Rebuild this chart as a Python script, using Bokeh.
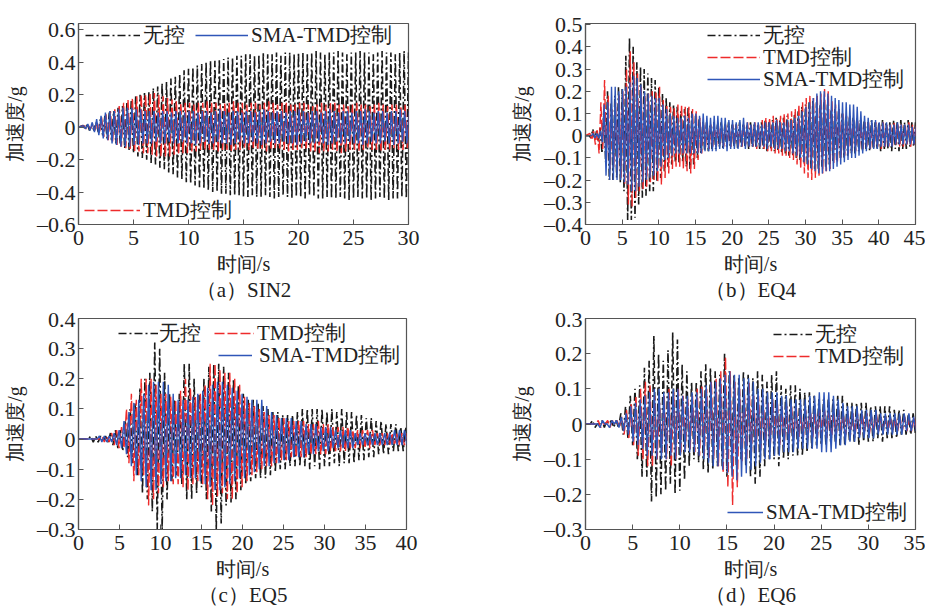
from bokeh.plotting import figure
from bokeh.layouts import column, row
from bokeh.models import (Legend, LegendItem, FixedTicker, CustomJSTickFormatter,
                          LinearAxis, Range1d)
from bokeh.embed import file_html
from bokeh.resources import INLINE

FONT = "Liberation Serif"
BLACK = "#1a1a1a"
RED = "#ee2b2b"
BLUE = "#2f56b8"

# ---------------- data: alternating peak values (unit: 0.01 g) ----------------
# (a) SIN2, one cycle every 0.4 s
a_period = 0.4
a_t0 = {"black": 0.40, "red": 0.50, "blue": 0.45}
a_black_up = [1,2,2,3,5,7,9,10,12,13, 15,17,19,20,21,22,24,25,27,28,
              30,31,33,35,36,37,38,39,40,41, 41,42,42,43,43,44,44,45,45,44,
              45,46,45,45,46,44,46,46,45,46, 46,45,46,47,46,45,46,46,47,46,
              45,46,46,47,46,46,45,46,47,46, 46,45,46,47,46]
a_black_dn = [-1,-2,-2,-3,-5,-7,-8,-10,-11,-13, -14,-16,-18,-19,-20,-22,-23,-25,-26,-28,
              -29,-31,-32,-34,-35,-36,-37,-38,-39,-40, -40,-41,-41,-42,-42,-42,-43,-43,-42,-43,
              -43,-42,-43,-44,-43,-42,-43,-44,-43,-43, -44,-42,-43,-44,-44,-43,-44,-44,-43,-44,
              -45,-44,-43,-44,-44,-45,-44,-43,-44,-45, -44,-44,-43,-44,-45]
a_red_up = [1,1,2,3,6,8,10,11,13,15, 17,18,19,20,20,21,21,20,19,18,
            17,16,15,15,15,14,15,15,16,15, 15,14,15,15,16,15,15,14,15,15,
            14,15,16,15,14,15,15,14,14,15, 15,14,13,14,15,14,15,15,14,14,
            13,14,15,14,14,13,14,15,14,13, 14,14,13,14,13]
a_red_dn = [-1,-1,-2,-4,-6,-8,-9,-11,-12,-13, -14,-15,-15,-16,-16,-17,-18,-18,-18,-18,
            -17,-17,-16,-16,-15,-15,-14,-14,-14,-14, -15,-14,-14,-15,-14,-14,-13,-14,-13,-14,
            -14,-15,-14,-13,-14,-14,-15,-14,-14,-13, -14,-15,-15,-16,-15,-15,-14,-15,-16,-15,
            -14,-14,-15,-14,-13,-14,-14,-15,-14,-14, -13,-14,-14,-13,-14]
a_blue_up = [1,2,3,5,7,9,10,10,11,12, 12,12,11,11,10,10,10,9,10,10,
             9,10,10,9,10,10,9,10,10,9, 10,11,10,9,10,10,9,10,10,9,
             10,11,10,9,10,10,9,10,10,11, 10,9,10,10,9,10,11,10,9,10,
             10,9,10,10,11,10,9,10,10,9, 10,10,11,10,10]
a_blue_dn = [-1,-2,-3,-5,-7,-8,-10,-11,-12,-12, -12,-11,-11,-10,-10,-10,-9,-10,-10,-9,
             -10,-10,-9,-10,-10,-11,-10,-9,-10,-10, -9,-10,-10,-11,-10,-9,-10,-10,-9,-10,
             -11,-10,-9,-10,-10,-9,-10,-10,-11,-10, -9,-10,-10,-9,-10,-11,-10,-9,-10,-10,
             -9,-10,-10,-11,-10,-9,-10,-10,-9,-10, -11,-10,-9,-10,-10]

# (b) EQ4, one cycle every 0.5 s
b_period = 0.5
b_t0 = {"black": 0.50, "red": 0.60, "blue": 0.55}
b_black_up = [0,3,2,4,12,20,15,18,22,21, 36,44,40,33,31,30,28,26,25,22,
              19,17,15,14,13,11,12,13,11,9, 8,6,6,5,6,5,6,5,6,5,
              5,6,5,5,6,5,5,6,7,6, 7,8,7,8,9,8,10,11,13,14,
              15,16,15,14,15,14,12,12,11,10, 9,9,8,8,7,7,6,7,6,6,
              7,6,6,7,6,7,6,7,6,6]
b_black_dn = [-1,-2,-3,-8,-12,-20,-20,-19,-21,-25, -38,-38,-37,-31,-28,-27,-25,-25,-21,-19,
              -16,-14,-13,-12,-12,-12,-14,-15,-13,-10, -8,-7,-7,-6,-6,-5,-6,-5,-5,-5,
              -6,-5,-5,-6,-5,-5,-6,-6,-7,-6, -7,-7,-8,-8,-9,-9,-10,-11,-12,-13,
              -15,-15,-15,-14,-14,-13,-12,-11,-10,-10, -9,-8,-8,-7,-7,-6,-7,-6,-6,-7,
              -6,-6,-7,-6,-7,-6,-6,-5,-5,-5]
b_red_up = [1,2,3,15,25,18,12,15,18,20, 30,38,33,28,22,18,19,20,20,22,
            16,14,13,13,14,14,13,13,12,11, 8,6,5,5,4,5,4,5,4,5,
            5,4,5,6,5,6,5,7,8,8, 9,8,9,10,10,11,12,14,15,17,
            18,17,18,19,21,20,16,14,12,10, 9,8,7,7,6,6,6,5,6,5,
            6,5,5,6,5,5,5,6,5,5]
b_red_dn = [-2,-4,-8,-6,-12,-15,-14,-16,-19,-22, -31,-32,-28,-25,-24,-23,-21,-20,-21,-22,
            -19,-17,-15,-14,-14,-15,-16,-17,-15,-11, -8,-6,-6,-5,-5,-4,-5,-4,-5,-4,
            -5,-5,-4,-5,-5,-6,-5,-6,-7,-7, -8,-8,-9,-9,-10,-11,-13,-15,-17,-19,
            -20,-19,-18,-17,-16,-15,-13,-12,-10,-9, -8,-7,-7,-6,-6,-5,-6,-5,-5,-6,
            -5,-5,-5,-4,-5,-5,-4,-5,-4,-4]
b_blue_up = [0,1,1,2,14,15,22,22,20,21, 22,24,27,26,23,20,19,18,17,17,
             14,12,10,9,8,8,9,8,10,10, 9,10,9,8,9,9,8,8,7,7,
             6,7,8,6,5,6,6,5,6,6, 6,7,6,6,7,7,8,9,11,13,
             15,17,19,20,20,19,18,17,16,15, 15,14,14,13,11,9,8,7,7,6,
             6,6,5,5,6,5,5,5,4,4]
b_blue_dn = [0,-1,-1,-3,-18,-20,-20,-20,-20,-21, -22,-25,-25,-23,-21,-20,-19,-18,-16,-14,
             -11,-10,-9,-8,-8,-8,-8,-8,-8,-8, -8,-7,-7,-7,-7,-6,-6,-7,-6,-6,
             -6,-5,-6,-5,-5,-5,-5,-5,-6,-5, -6,-6,-6,-7,-7,-8,-9,-10,-12,-13,
             -15,-16,-17,-17,-16,-16,-15,-14,-13,-12, -11,-10,-10,-9,-8,-7,-6,-6,-6,-5,
             -5,-5,-5,-4,-4,-4,-4,-4,-4,-4]

# (c) EQ5, one cycle every 0.6 s
c_period = 0.6
c_t0 = {"black": 0.30, "red": 0.45, "blue": 0.15}
c_black_up = [0,0,1,1,1,1,2,3,3,6, 10,12,17,20,22,32,30,22,15,13,
              15,25,25,20,15,20,24,25,25,24, 22,20,18,15,13,13,12,11,10,9,
              9,8,8,8,9,10,10,10,10,10, 9,10,9,10,9,9,8,8,7,7,
              6,6,5,5,5,4,4]
c_black_dn = [0,0,-1,-1,-1,-1,-2,-3,-4,-6, -8,-12,-18,-20,-24,-30,-30,-20,-14,-12,
              -15,-20,-20,-18,-16,-20,-24,-30,-28,-22, -21,-20,-17,-15,-14,-13,-13,-13,-12,-11,
              -10,-10,-9,-9,-9,-9,-10,-9,-10,-9, -9,-8,-9,-8,-8,-8,-7,-7,-6,-6,
              -5,-5,-5,-4,-4,-4,-4]
c_red_up = [0,0,0,0,1,1,2,3,4,10, 15,13,20,20,20,18,15,15,14,13,
            16,20,17,14,15,18,25,25,23,22, 22,20,18,14,12,11,10,9,8,8,
            7,7,6,6,6,6,5,5,6,5, 5,4,4,4,4,3,3,3,3,3,
            2,2,2,2,2,2,2]
c_red_dn = [0,0,0,0,-1,-1,-2,-3,-3,-8, -14,-12,-12,-22,-20,-18,-16,-14,-15,-15,
            -16,-17,-15,-14,-15,-20,-22,-19,-18,-20, -20,-18,-16,-14,-12,-11,-10,-9,-9,-8,
            -7,-7,-6,-6,-6,-6,-5,-5,-5,-5, -4,-4,-4,-4,-3,-3,-3,-3,-3,-2,
            -2,-2,-2,-2,-2,-2,-2]
c_blue_up = [0,0,0,0,1,1,1,2,3,6, 9,12,13,15,18,19,19,19,18,15,
             13,13,13,14,15,16,17,18,19,19, 18,17,16,15,14,13,13,13,11,9,
             8,7,7,7,6,6,5,5,5,4, 4,4,3,3,3,3,2,2,2,2,
             2,2,2,2,3,3,3]
c_blue_dn = [0,0,0,0,-1,-1,-1,-2,-3,-5, -9,-12,-14,-16,-17,-17,-15,-14,-14,-13,
             -13,-12,-13,-13,-14,-15,-16,-17,-17,-16, -15,-14,-13,-13,-12,-11,-10,-9,-9,-8,
             -8,-7,-7,-6,-6,-6,-5,-5,-4,-4, -4,-3,-3,-3,-3,-3,-2,-2,-2,-2,
             -2,-2,-2,-2,-2,-2,-2]

# (d) EQ6, one cycle every 0.5 s
d_period = 0.5
d_t0 = {"black": 0.25, "red": 0.35, "blue": 0.30}
d_black_up = [0,1,0,1,1,1,1,3,5,8, 10,11,16,18,25,20,18,21,26,24,
              17,15,12,12,15,17,16,15,14,20, 15,14,13,15,14,13,15,14,12,14,
              15,11,10,11,11,10,9,9,8,7, 7,7,7,8,8,6,6,6,6,6,
              5,5,5,5,5,4,4,4,3,3]
d_black_dn = [0,-1,0,-1,0,-1,-1,-3,-4,-6, -10,-15,-15,-22,-21,-20,-19,-17,-20,-19,
              -16,-12,-10,-11,-13,-14,-13,-12,-12,-15, -13,-12,-10,-12,-15,-17,-15,-12,-10,-10,
              -12,-10,-10,-9,-9,-9,-8,-7,-6,-6, -6,-5,-5,-6,-6,-5,-5,-6,-5,-5,
              -5,-4,-5,-4,-4,-4,-3,-3,-3,-3]
d_red_up = [0,0,1,0,1,1,1,2,4,6, 8,10,12,11,8,6,8,10,9,10,
            8,7,8,10,11,10,12,13,15,19, 15,12,10,10,12,8,8,7,6,7,
            6,5,5,5,5,4,4,4,4,4, 4,4,3,4,3,3,3,3,3,3,
            2,3,2,2,2,2,2,2,2,2]
d_red_dn = [0,0,-1,0,-1,0,-1,-3,-4,-6, -9,-10,-12,-12,-10,-8,-10,-12,-10,-8,
            -7,-7,-8,-9,-9,-10,-10,-12,-14,-18, -23,-18,-11,-10,-8,-8,-7,-6,-6,-5,
            -6,-5,-5,-4,-5,-4,-4,-4,-4,-3, -4,-4,-3,-3,-3,-3,-3,-3,-2,-3,
            -2,-2,-2,-2,-2,-2,-2,-2,-2,-2]
d_blue_up = [0,0,0,1,0,1,1,2,3,5, 6,7,8,9,10,10,9,9,10,10,
             8,8,9,9,10,11,12,12,13,14, 15,14,14,13,13,12,10,10,9,9,
             9,8,8,7,7,7,7,8,8,9, 9,9,8,7,6,5,5,5,4,4,
             4,4,3,3,3,3,3,3,3,2]
d_blue_dn = [0,0,-1,0,-1,0,-1,-2,-3,-5, -6,-7,-9,-9,-10,-10,-10,-9,-10,-9,
             -8,-8,-8,-9,-10,-11,-12,-12,-13,-14, -15,-16,-15,-14,-13,-12,-11,-10,-10,-9,
             -9,-8,-8,-8,-7,-7,-7,-7,-7,-8, -8,-8,-7,-6,-6,-5,-5,-4,-4,-4,
             -4,-3,-3,-3,-3,-3,-3,-2,-2,-2]

# axes / labels
a_xticks = [0, 5, 10, 15, 20, 25, 30]
a_yticks = [-0.6, -0.4, -0.2, 0, 0.2, 0.4, 0.6]
b_xticks = [0, 5, 10, 15, 20, 25, 30, 35, 40, 45]
b_yticks = [-0.4, -0.3, -0.2, -0.1, 0, 0.1, 0.2, 0.3, 0.4, 0.5]
c_xticks = [0, 5, 10, 15, 20, 25, 30, 35, 40]
c_yticks = [-0.3, -0.2, -0.1, 0, 0.1, 0.2, 0.3, 0.4]
d_xticks = [0, 5, 10, 15, 20, 25, 30, 35]
d_yticks = [-0.3, -0.2, -0.1, 0, 0.1, 0.2, 0.3]
labels = {"black": "无控", "red": "TMD控制", "blue": "SMA-TMD控制"}
titles = ["（a）SIN2", "（b）EQ4", "（c）EQ5", "（d）EQ6"]
x_label = "时间/s"
y_label = "加速度/g"


def zigzag(t0, period, up, dn):
    xs, ys = [0.0], [0.0]
    n = min(len(up), len(dn))
    for i in range(n):
        xs.append(t0 + i * period)
        ys.append(up[i] / 100.0)
        xs.append(t0 + (i + 0.5) * period)
        ys.append(dn[i] / 100.0)
    return xs, ys


FMT = CustomJSTickFormatter(code="return (tick < 0 ? '\u2013' : '') + Math.abs(tick);")


def panel(w, h, bl, br, bt, bb, xr, yr, xt, yt, title, period, t0, series):
    p = figure(width=w, height=h, x_range=Range1d(*xr), y_range=Range1d(*yr),
               output_backend="svg", toolbar_location=None,
               min_border_left=bl, min_border_right=br,
               min_border_top=bt, min_border_bottom=bb)
    p.title.visible = False
    p.xgrid.visible = False
    p.ygrid.visible = False
    p.outline_line_color = "#555555"
    p.outline_line_width = 1.2
    p.outline_line_alpha = 1
    p.background_fill_color = "white"
    p.border_fill_color = "white"
    p.xaxis.ticker = FixedTicker(ticks=xt)
    p.yaxis.ticker = FixedTicker(ticks=yt)
    for ax in (p.xaxis[0], p.yaxis[0]):
        ax.formatter = FMT
        ax.major_tick_in = 5
        ax.major_tick_out = 0
        ax.minor_tick_line_color = None
        ax.axis_line_color = "#555555"
        ax.axis_line_width = 1.2
        ax.major_tick_line_color = "#555555"
        ax.major_label_text_font = FONT
        ax.major_label_text_font_size = "22px"
        ax.major_label_text_color = "#222222"
        ax.axis_label_text_font = FONT
        ax.axis_label_text_font_size = "20px"
        ax.axis_label_text_font_style = "normal"
        ax.axis_label_text_color = "#222222"
    p.xaxis.major_label_standoff = 6
    p.yaxis.major_label_standoff = 3
    p.xaxis.axis_label = x_label
    p.yaxis.axis_label = y_label
    p.xaxis.axis_label_standoff = 5
    p.yaxis.axis_label_standoff = 8
    # caption of the panel, drawn as the label of a bare second axis below
    tax = LinearAxis(ticker=FixedTicker(ticks=[]), axis_label=title,
                     axis_line_color=None, major_tick_line_color=None,
                     minor_tick_line_color=None, major_tick_in=0, major_tick_out=0,
                     major_label_standoff=0, axis_label_standoff=0,
                     axis_label_text_font=FONT, axis_label_text_font_size="21px",
                     axis_label_text_font_style="normal",
                     axis_label_text_color="#222222")
    p.add_layout(tax, "below")
    rs = {}
    styles = {"black": (BLACK, 1.6, "8 3 2 3"),
              "red": (RED, 1.4, "10 3"),
              "blue": (BLUE, 1.4, "solid")}
    for key in ("black", "red", "blue"):
        up, dn = series[key]
        xs, ys = zigzag(t0[key], period, up, dn)
        col, lw, dash = styles[key]
        rs[key] = p.line(xs, ys, line_color=col, line_width=lw, line_dash=dash)
    return p, rs


def legend(rs, key, loc, gw, standoff=3):
    return Legend(items=[LegendItem(label=labels[key], renderers=[rs[key]])],
                  location=loc, orientation="horizontal", glyph_width=gw, glyph_height=16,
                  label_standoff=standoff, spacing=0, padding=0, margin=0,
                  label_text_font=FONT, label_text_font_size="21px",
                  label_text_color="#222222", label_height=16,
                  background_fill_alpha=0, border_line_alpha=0)


pa, ra = panel(490, 306, 78, 82, 16, 82, (0, 30), (-0.6, 0.639), a_xticks, a_yticks,
               titles[0], a_period, a_t0,
               {"black": (a_black_up, a_black_dn), "red": (a_red_up, a_red_dn),
                "blue": (a_blue_up, a_blue_dn)})
pa.add_layout(legend(ra, "black", (7, 175), 55))
pa.add_layout(legend(ra, "blue", (117, 175), 53))
pa.add_layout(legend(ra, "red", (6, 0), 56))

pb, rb = panel(435, 306, 95, 10, 23, 82, (0, 45), (-0.4, 0.505), b_xticks, b_yticks,
               titles[1], b_period, b_t0,
               {"black": (b_black_up, b_black_dn), "red": (b_red_up, b_red_dn),
                "blue": (b_blue_up, b_blue_dn)})
pb.add_layout(legend(rb, "black", (122, 175), 53))
pb.add_layout(legend(rb, "red", (122, 153), 53))
pb.add_layout(legend(rb, "blue", (122, 131), 53))

pc, rc = panel(490, 305, 77, 84, 11, 82, (0, 40), (-0.3, 0.4), c_xticks, c_yticks,
               titles[2], c_period, c_t0,
               {"black": (c_black_up, c_black_dn), "red": (c_red_up, c_red_dn),
                "blue": (c_blue_up, c_blue_dn)})
pc.add_layout(legend(rc, "black", (40, 182), 40, standoff=1))
pc.add_layout(legend(rc, "red", (136, 182), 40))
pc.add_layout(legend(rc, "blue", (140, 160), 34, standoff=7))

pd_, rd = panel(435, 305, 95, 10, 12, 82, (0, 35), (-0.3, 0.3), d_xticks, d_yticks,
                titles[3], d_period, d_t0,
                {"black": (d_black_up, d_black_dn), "red": (d_red_up, d_red_dn),
                 "blue": (d_blue_up, d_blue_dn)})
pd_.add_layout(legend(rd, "black", (188, 181), 39))
pd_.add_layout(legend(rd, "red", (188, 159), 39))
pd_.add_layout(legend(rd, "blue", (142, 3), 36))

layout = column(row(pa, pb), row(pc, pd_))
open("out.html", "w").write(file_html(layout, INLINE))
